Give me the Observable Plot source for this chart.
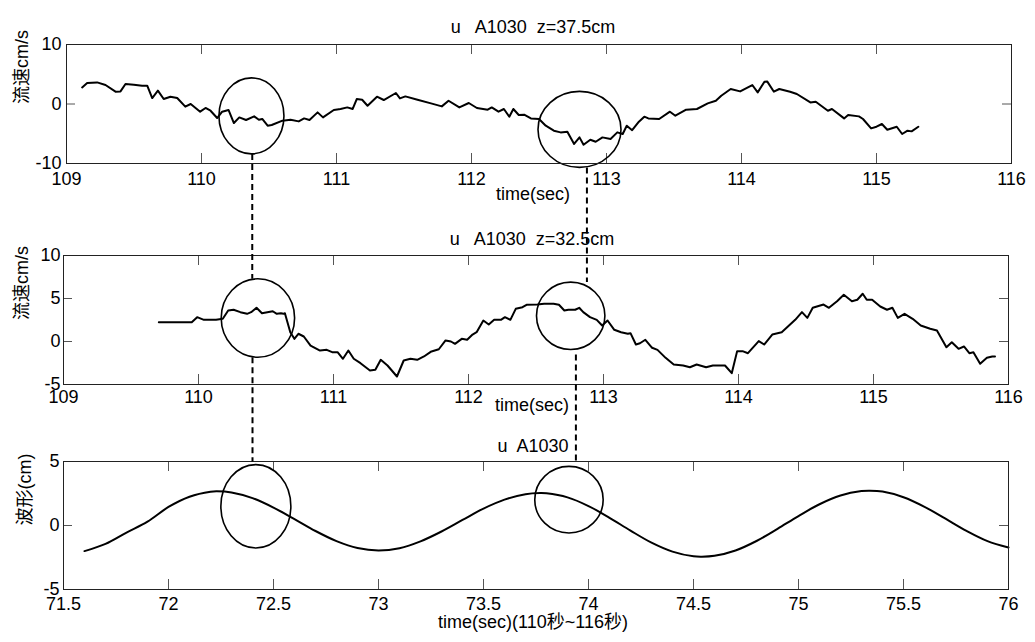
<!DOCTYPE html>
<html>
<head>
<meta charset="utf-8">
<script src="https://cdn.jsdelivr.net/npm/d3@7"></script>
<script src="https://cdn.jsdelivr.net/npm/@observablehq/plot@0.6"></script>
<style>
  body { margin: 0; background: #fff; }
  #chart { position: relative; width: 1035px; height: 642px; background: #fff; }
  #chart svg { position: absolute; left: 0; }
</style>
</head>
<body>
<div id="chart"></div>
<script>
// ---- velocity record at z = 37.5 cm (time in s, u in cm/s) ----
const timeUpper = [109.116,109.153,109.227,109.289,109.363,109.40,109.437,109.499,109.56,109.598,109.635,109.677,109.72,109.77,109.82,109.88,109.92,109.99,110.03,110.067,110.116,110.153,110.20,110.24,110.28,110.33,110.39,110.425,110.45,110.49,110.52,110.60,110.66,110.72,110.76,110.80,110.86,110.90,110.98,111.03,111.08,111.12,111.15,111.19,111.23,111.30,111.35,111.44,111.47,111.51,111.60,111.70,111.78,111.83,111.91,111.98,112.04,112.12,112.15,112.20,112.24,112.28,112.31,112.35,112.39,112.44,112.50,112.55,112.61,112.66,112.71,112.76,112.80,112.83,112.88,112.92,112.97,113.03,113.08,113.12,113.15,113.19,113.24,113.28,113.31,113.39,113.47,113.51,113.59,113.67,113.75,113.81,113.85,113.92,113.99,114.08,114.12,114.17,114.19,114.24,114.28,114.36,114.41,114.51,114.55,114.64,114.67,114.76,114.79,114.87,114.90,114.96,115.00,115.04,115.08,115.15,115.19,115.23,115.26,115.31];
const velUpper = [2.79,3.53,3.63,3.19,2.07,2.12,3.36,3.24,3.08,3.08,1.00,2.24,0.84,1.23,1.00,-0.45,0,-1.29,-0.67,-1.13,-2.36,-1.29,-1.00,-3.20,-2.25,-2.69,-2.08,-2.64,-2.52,-3.65,-3.53,-2.80,-2.64,-2.92,-2.42,-2.69,-1.41,-2.25,-1.00,-0.84,-0.57,-0.84,0.84,0.72,-0.29,1.23,0.67,1.85,0.94,1.28,0.72,0.10,-0.40,0.55,-0.57,0.17,-0.67,-0.96,-0.57,-1.29,-0.84,-2.13,-0.84,-1.85,-1.80,-2.42,-2.52,-3.65,-4.49,-4.77,-4.66,-6.72,-5.61,-6.84,-6.00,-6.34,-5.61,-5.88,-4.77,-5.04,-3.65,-4.40,-2.97,-2.13,-2.42,-2.52,-1.29,-1.97,-0.96,-0.84,0.10,0.55,1.39,2.52,2.12,3.19,1.95,3.75,3.80,2.07,2.52,2.07,1.68,0.27,0.39,-1.13,-0.84,-2.42,-1.85,-2.08,-2.52,-4.10,-3.82,-3.36,-4.32,-3.82,-5.04,-4.49,-4.60,-3.82];

// ---- velocity record at z = 32.5 cm ----
const timeMiddle = [109.706,109.79,109.89,109.95,109.99,110.04,110.13,110.18,110.22,110.26,110.31,110.36,110.39,110.43,110.47,110.51,110.55,110.58,110.61,110.63,110.64,110.68,110.71,110.74,110.78,110.83,110.90,110.95,110.99,111.03,111.07,111.11,111.15,111.20,111.27,111.31,111.35,111.40,111.47,111.52,111.57,111.62,111.67,111.72,111.78,111.83,111.87,111.90,111.95,111.99,112.03,112.06,112.11,112.15,112.19,112.24,112.27,112.31,112.35,112.40,112.43,112.51,112.56,112.63,112.67,112.71,112.74,112.79,112.82,112.85,112.90,112.95,112.99,113.03,113.08,113.13,113.18,113.20,113.24,113.27,113.31,113.36,113.40,113.46,113.52,113.59,113.64,113.69,113.76,113.81,113.85,113.90,113.95,113.99,114.03,114.07,114.15,114.19,114.25,114.32,114.42,114.47,114.51,114.55,114.63,114.67,114.73,114.78,114.84,114.88,114.92,114.95,114.99,115.05,115.10,115.14,115.18,115.23,115.29,115.35,115.42,115.47,115.54,115.58,115.63,115.67,115.71,115.74,115.79,115.84,115.88,115.90];
const velMiddle = [2.24,2.24,2.24,2.24,2.83,2.52,2.52,2.64,3.60,3.69,3.41,3.22,3.41,3.92,3.29,3.41,3.52,3.22,3.29,3.22,3.29,1.08,0.31,0.90,0.58,-0.47,-1.05,-0.97,-1.24,-1.24,-2.01,-1.05,-2.01,-2.52,-3.37,-3.29,-2.13,-2.79,-4.07,-2.21,-2.01,-2.13,-1.74,-1.20,-0.90,0.12,0,-0.27,0.31,0.20,0.81,1.08,2.44,1.98,2.52,2.52,2.83,2.52,3.80,3.99,4.27,4.30,4.38,4.38,4.27,3.60,3.69,3.69,3.92,3.41,2.83,2.52,1.86,2.44,1.36,1.08,0.90,0.97,-0.35,-0.20,0.20,-0.73,-0.97,-1.90,-2.67,-2.79,-2.99,-2.67,-2.99,-2.79,-2.79,-2.79,-3.68,-1.12,-1.12,-1.36,0.04,-0.35,0.81,1.08,2.52,3.41,2.75,3.92,4.30,3.92,4.69,5.43,4.69,4.85,5.55,4.85,4.85,4.07,3.69,3.92,2.75,3.22,2.64,1.86,1.48,1.28,-0.66,-0.08,-0.85,-0.58,-1.36,-1.24,-2.59,-1.90,-1.74,-1.74];

// ---- surface elevation (wave gauge) ----
const timeWave = [71.6,71.7,71.8,71.9,72.0,72.1,72.2,72.23,72.3,72.4,72.5,72.6,72.7,72.8,72.9,73.0,73.1,73.2,73.3,73.4,73.5,73.6,73.7,73.77,73.8,73.9,74.0,74.1,74.2,74.3,74.4,74.5,74.54,74.6,74.7,74.8,74.9,75.0,75.1,75.2,75.3,75.34,75.4,75.5,75.6,75.7,75.8,75.9,76.0];
const etaWave = [-2.0,-1.44,-0.55,0.3,1.45,2.25,2.64,2.67,2.58,2.14,1.4,0.5,-0.43,-1.22,-1.76,-1.95,-1.77,-1.24,-0.47,0.43,1.32,2.02,2.45,2.54,2.52,2.2,1.52,0.6,-0.4,-1.34,-2.04,-2.41,-2.44,-2.37,-1.95,-1.21,-0.26,0.74,1.66,2.34,2.69,2.72,2.65,2.21,1.46,0.53,-0.42,-1.22,-1.72];

// ---- axis ticks ----
const ticksSec = [109,110,111,112,113,114,115,116];
const ticksWave = [71.5,72,72.5,73,73.5,74,74.5,75,75.5,76];
const ticksUpper = [-10,0,10];
const ticksMiddle = [-5,0,5,10];
const ticksWaveY = [-5,0,5];

// ---- texts ----
const titles = ["u   A1030  z=37.5cm", "u   A1030  z=32.5cm", "u  A1030"];
const xLabels = ["time(sec)", "time(sec)", "time(sec)(110秒~116秒)"];
const yLabels = ["流速cm/s", "流速cm/s", "波形(cm)"];

// ---- highlighted events: ring centres (time, value) ----
const ringsUpper = [[110.37, -2.0], [112.80, -4.27]];
const ringsMiddle = [[110.44, 2.73], [112.757, 2.99]];
const ringsWave = [[72.416, 1.5], [73.907, 2.02]];
// guide line times: upper guides in the z=37.5cm clock, lower guides in the wave clock
const guideUpper = [110.376, 112.855];
const guideLower = [72.40, 73.94];

const FONT = "'Liberation Sans', Arial, 'Noto Sans CJK SC', sans-serif";

// elliptical ring symbol: size gives the vertical radius, aspect stretches x
function ellipse(aspect) {
  const k = 0.5522847;
  return {
    draw(ctx, size) {
      const ry = Math.sqrt(size / Math.PI), rx = ry * aspect;
      ctx.moveTo(rx, 0);
      ctx.bezierCurveTo(rx, k * ry, k * rx, ry, 0, ry);
      ctx.bezierCurveTo(-k * rx, ry, -rx, k * ry, -rx, 0);
      ctx.bezierCurveTo(-rx, -k * ry, -k * rx, -ry, 0, -ry);
      ctx.bezierCurveTo(k * rx, -ry, rx, -k * ry, rx, 0);
      ctx.closePath();
    }
  };
}

function panel(o) {
  const [mt, mr, mb, ml] = o.margin;
  const W = 1035, fh = o.height - mt - mb, fw = W - ml - mr;
  const xIn = o.xTicks.slice(1, -1), yIn = o.yTicks.slice(1, -1);
  const idx = d3.range(o.t.length);
  const rings = o.rings.map((c, i) =>
    Plot.dot([c], {x: d => d[0], y: d => d[1], r: o.ringR[i][1],
      symbol: ellipse(o.ringR[i][0] / o.ringR[i][1]),
      fill: "none", stroke: "#000", strokeWidth: 1.6}));
  const svg = Plot.plot({
    width: W, height: o.height,
    marginTop: mt, marginRight: mr, marginBottom: mb, marginLeft: ml,
    x: {domain: o.xDomain},
    y: {domain: o.yDomain},
    style: {fontFamily: FONT, fontSize: "18px", background: "transparent", color: "#000"},
    marks: [
      Plot.tickX(xIn, {x: d => d, insetTop: fh - 10, stroke: "#555", strokeWidth: 1}),
      Plot.tickX(xIn, {x: d => d, insetBottom: fh - 10, stroke: "#555", strokeWidth: 1}),
      Plot.tickY(yIn, {y: d => d, insetRight: fw - 9, stroke: "#555", strokeWidth: 1}),
      Plot.tickY(yIn, {y: d => d, insetLeft: fw - 9, stroke: "#555", strokeWidth: 1}),
      Plot.axisX({ticks: o.xTicks, tickSize: 0, tickPadding: o.xPad, tickFormat: d => String(d), label: null, fontSize: 18}),
      Plot.axisY({ticks: o.yTicks, tickSize: 0, tickPadding: o.yPad, tickFormat: d => String(d), label: null, fontSize: 18}),
      Plot.line(idx, {x: i => o.t[i], y: i => o.v[i], stroke: "#000", strokeWidth: 2, curve: o.curve || "linear"}),
      ...rings,
      Plot.frame({stroke: "#222", strokeWidth: 1}),
      Plot.text([o.title], {frameAnchor: "top", dy: o.titleDy, dx: o.textDx, fontSize: 18}),
      Plot.text([o.xLabel], {frameAnchor: "bottom", dy: o.xLabelDy, dx: o.textDx, fontSize: 18}),
      Plot.text([o.yLabel], {frameAnchor: "left", rotate: -90, dx: o.yLabelDx, fontSize: 18})
    ]
  });
  svg.style.top = o.top + "px";
  const sx = svg.scale("x"), sy = svg.scale("y");
  svg.px = v => sx.apply ? sx.apply(v) : d3.scaleLinear(sx.domain, sx.range)(v);
  svg.py = v => o.top + (sy.apply ? sy.apply(v) : d3.scaleLinear(sy.domain, sy.range)(v));
  svg.ringR = o.ringR;
  return svg;
}

const chart = document.getElementById("chart");

const pUpper = panel({
  top: 0, height: 215, margin: [44, 24, 52, 66],
  xDomain: [109, 116], yDomain: [-10, 10], xTicks: ticksSec, yTicks: ticksUpper,
  t: timeUpper, v: velUpper,
  rings: ringsUpper, ringR: [[32.5, 38], [41.5, 38]],
  title: titles[0], xLabel: xLabels[0], yLabel: yLabels[0],
  titleDy: -24, xLabelDy: 36, yLabelDx: -44, textDx: -6, xPad: 9, yPad: 5
});
const pMiddle = panel({
  top: 215, height: 210, margin: [40, 27, 41, 63],
  xDomain: [109, 116], yDomain: [-5, 10], xTicks: ticksSec, yTicks: ticksMiddle,
  t: timeMiddle, v: velMiddle,
  rings: ringsMiddle, ringR: [[36.7, 39.2], [34.2, 33.7]],
  title: titles[1], xLabel: xLabels[1], yLabel: yLabels[1],
  titleDy: -23, xLabelDy: 26, yLabelDx: -41, textDx: -4, xPad: 6, yPad: 3
});
const pWave = panel({
  top: 425, height: 217, margin: [36, 27, 53, 63],
  xDomain: [71.5, 76], yDomain: [-5, 5], xTicks: ticksWave, yTicks: ticksWaveY,
  t: timeWave, v: etaWave, curve: "catmull-rom",
  rings: ringsWave, ringR: [[35, 41.7], [34.2, 33.3]],
  title: titles[2], xLabel: xLabels[2], yLabel: yLabels[2],
  titleDy: -22, xLabelDy: 38, yLabelDx: -38, textDx: -3, xPad: 8, yPad: 4
});

chart.append(pUpper, pMiddle, pWave);

// dashed guides joining the rings across panels
const guides = [];
guideUpper.forEach((g, i) => {
  guides.push({
    x: pUpper.px(g),
    y1: pUpper.py(ringsUpper[i][1]) + pUpper.ringR[i][1],
    y2: pMiddle.py(ringsMiddle[i][1]) - pMiddle.ringR[i][1]
  });
});
guideLower.forEach((g, i) => {
  guides.push({
    x: pWave.px(g),
    y1: pMiddle.py(ringsMiddle[i][1]) + pMiddle.ringR[i][1] + (i === 1 ? 5 : 0),
    y2: pWave.py(5)
  });
});

const overlay = Plot.plot({
  width: 1035, height: 642, margin: 0,
  x: {type: "identity", axis: null}, y: {type: "identity", axis: null},
  style: {background: "transparent"},
  marks: [
    Plot.link(guides, {x1: "x", x2: "x", y1: "y1", y2: "y2", stroke: "#000", strokeWidth: 2, strokeDasharray: "6,4"})
  ]
});
overlay.style.top = "0px";
overlay.style.pointerEvents = "none";
chart.append(overlay);
</script>
</body>
</html>
